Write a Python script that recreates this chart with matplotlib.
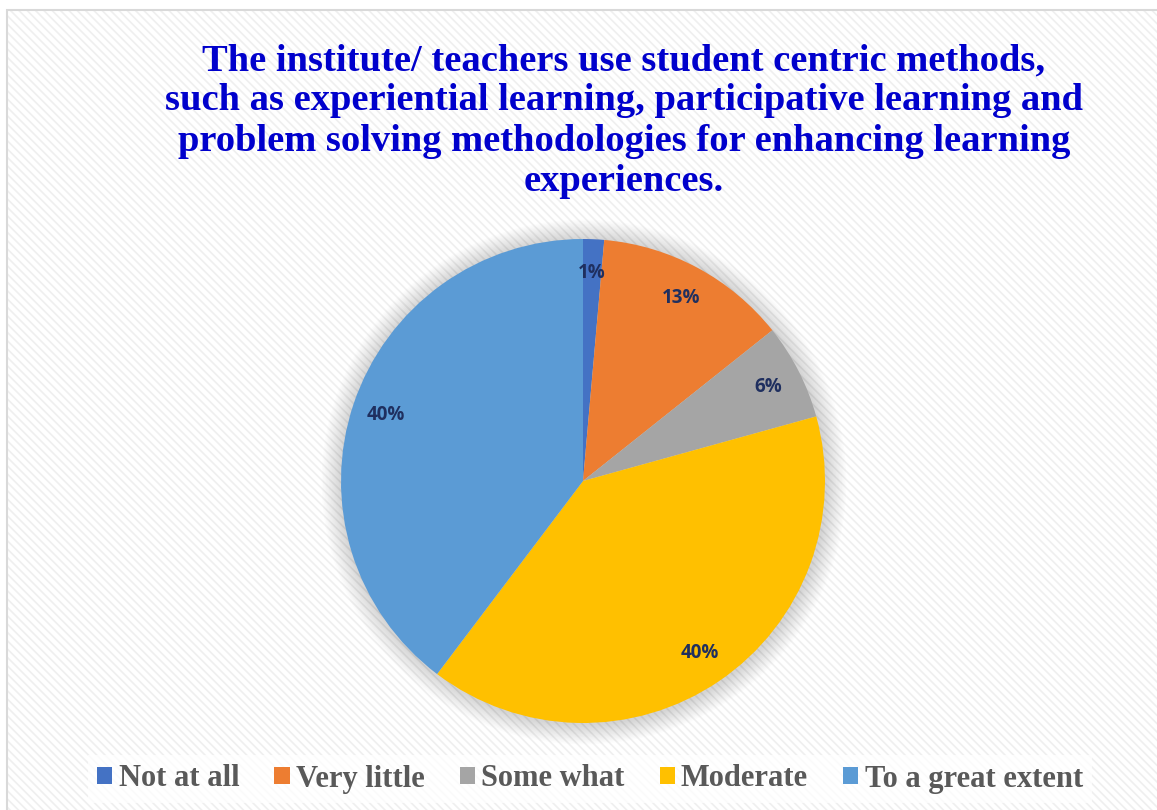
"""Pie chart: student centric methods survey responses."""

import matplotlib.pyplot as plt
from matplotlib.patches import Circle, Rectangle

# Survey data
categories = ["Not at all", "Very little", "Some what", "Moderate", "To a great extent"]
shares = [1.4, 12.9, 6.4, 39.6, 39.7]
colors = ["#4472C4", "#ED7D31", "#A5A5A5", "#FFC000", "#5B9BD5"]
title = (
    "The institute/ teachers use student centric methods,\n"
    "such as experiential learning, participative learning and\n"
    "problem solving methodologies for enhancing learning\n"
    "experiences."
)

W, H = 1157, 810
plt.rcParams["hatch.linewidth"] = 1.2
fig = plt.figure(figsize=(W / 100, H / 100), dpi=100)

# Chart area background with diagonal texture
fig.patches.append(
    Rectangle((7 / W, 0), 1 - 7 / W, 800 / H, transform=fig.transFigure,
              facecolor="white", edgecolor="#EFEFEF", linewidth=0,
              hatch="\\\\\\\\", zorder=-2)
)
fig.patches.append(
    Rectangle((7 / W, -0.01), 1.01 - 7 / W, 0.01 + 800 / H, transform=fig.transFigure,
              facecolor="none", edgecolor="#D9D9D9", linewidth=1.5, zorder=-1)
)

fig.text(624 / W, 1 - 43 / H, title, ha="center", va="top",
         fontsize=27.7, fontweight="bold", family="Liberation Serif",
         color="#0000CC", linespacing=1.2)

# Pie axes positioned in pixels
cx, cy, r = 583, 481, 242
ax = fig.add_axes([(cx - r) / W, (H - cy - r) / H, 2 * r / W, 2 * r / H])
ax.patch.set_visible(False)

# soft glow behind the pie
for i in range(14):
    ax.add_patch(Circle((0.004, -0.004), 1 + 0.006 * (14 - i), color="#000000",
                        alpha=0.012, lw=0, clip_on=False, zorder=0))

wedges, _, autotexts = ax.pie(
    shares, colors=colors, startangle=90, counterclock=False, radius=1,
    autopct="%.0f%%", pctdistance=0.86,
    wedgeprops=dict(linewidth=0),
    textprops=dict(fontsize=13.5, fontweight="bold", color="#1F2F5F",
                   family="Open Sans"),
)
for w in wedges:
    w.set_zorder(2)
for t in autotexts:
    t.set_zorder(3)
ax.set_xlim(-1, 1)
ax.set_ylim(-1, 1)
ax.axis("off")

# Legend
leg = fig.legend(
    wedges, categories, loc="center", bbox_to_anchor=(590 / W, 1 - 779 / H),
    ncol=5, frameon=True, fancybox=False, handlelength=0.5, handleheight=0.5,
    handletextpad=0.2, columnspacing=1.15, borderpad=0.3,
    prop=dict(family="Liberation Serif", weight="bold", size=22),
)
leg.get_frame().set_facecolor("white")
leg.get_frame().set_alpha(0.75)
leg.get_frame().set_linewidth(0)
for t in leg.get_texts():
    t.set_color("#595959")

fig.savefig("out.png", dpi=100)
